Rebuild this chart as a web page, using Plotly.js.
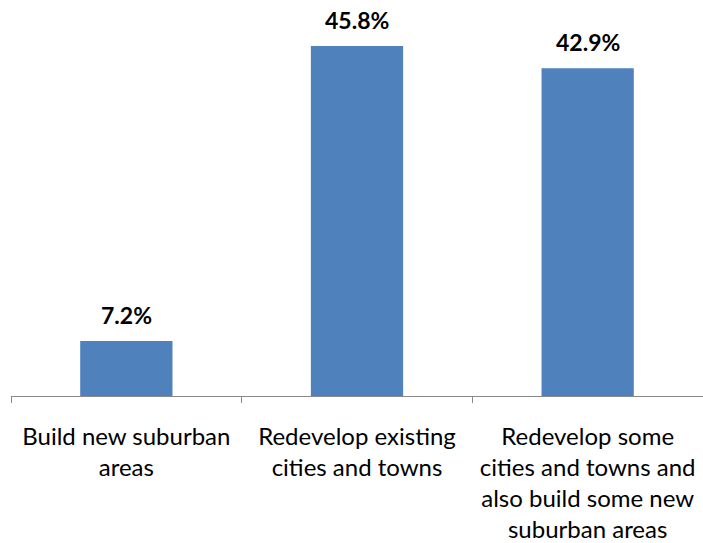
<!DOCTYPE html>
<html>
<head>
<meta charset="utf-8">
<script src="https://cdn.plot.ly/plotly-3.0.1.min.js"></script>
<style>html,body{margin:0;padding:0;background:#fff;}#chart{width:703px;height:543px;}</style>
</head>
<body>
<div id="chart"></div>
<script>
const categories = [
  "Build new suburban<br>areas",
  "Redevelop existing<br>cities and towns",
  "Redevelop some<br>cities and towns and<br>also build some new<br>suburban areas"
];
const values = [7.2, 45.8, 42.9];
const valueLabels = ["7.2%", "45.8%", "42.9%"];

const trace = {
  type: 'bar',
  x: categories,
  y: values,
  marker: {color: '#4F81BD'},
  width: 0.4,
  hoverinfo: 'none'
};

const annotations = categories.map((c, i) => ({
  x: c, y: values[i], xref: 'x', yref: 'y',
  text: '<b>' + valueLabels[i] + '</b>',
  showarrow: false, yanchor: 'bottom', yshift: 10,
  font: {family: 'Lato, sans-serif', size: 23, color: '#000'}
}));

const layout = {
  width: 703, height: 543,
  margin: {l: 11, r: 0, t: 14, b: 147},
  paper_bgcolor: '#fff', plot_bgcolor: '#fff',
  showlegend: false,
  xaxis: {
    showline: true, linecolor: '#898989', linewidth: 1,
    ticks: 'outside', tickson: 'boundaries', ticklen: 6, tickcolor: '#898989',
    showgrid: false, zeroline: false, fixedrange: true,
    tickfont: {family: 'Lato, sans-serif', size: 24, color: '#000'},
    ticklabelstandoff: 19
  },
  yaxis: {range: [0, 50], visible: false, fixedrange: true},
  annotations: annotations
};

Plotly.newPlot('chart', [trace], layout, {displayModeBar: false, staticPlot: true});
</script>
</body>
</html>
